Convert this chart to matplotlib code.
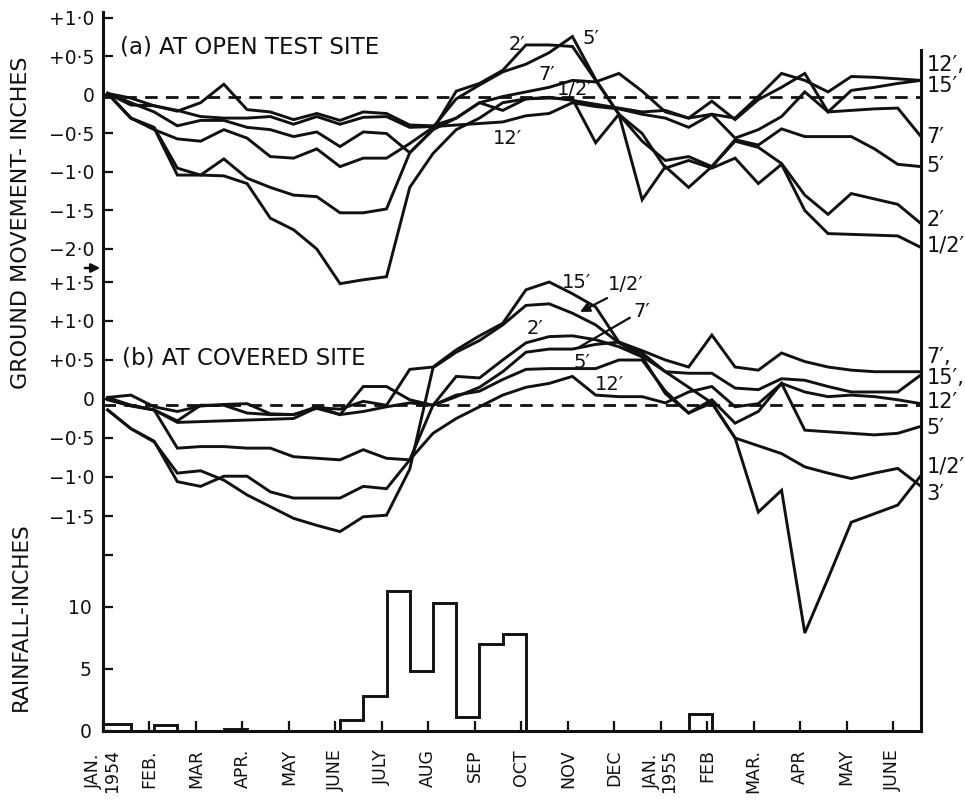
import matplotlib
matplotlib.use("Agg")
import matplotlib.pyplot as plt

plt.rcParams['font.family'] = ['DejaVu Sans', 'Noto Sans']

# ---------------- data ----------------
# observation times, in months after 1 Jan 1954 (semi-monthly readings)
obs_time = [0.1, 0.6, 1.1, 1.6, 2.1, 2.6, 3.1, 3.6, 4.1, 4.6, 5.1, 5.6,
            6.1, 6.6, 7.1, 7.6, 8.1, 8.6, 9.1, 9.6, 10.1, 10.6, 11.1, 11.6,
            12.1, 12.6, 13.1, 13.6, 14.1, 14.6, 15.1, 15.6, 16.1, 16.6, 17.1, 17.6]

month_labels = ["JAN.\n1954", "FEB.", "MAR", "APR.", "MAY", "JUNE", "JULY", "AUG",
                "SEP", "OCT", "NOV", "DEC", "JAN.\n1955", "FEB", "MAR.", "APR", "MAY", "JUNE"]

# (a) open test site, ground movement (inches) at each depth
open_15 = [0.02, -0.04, -0.14, -0.21, -0.10, 0.14, -0.19, -0.22, -0.32, -0.24, -0.33, -0.22,
           -0.24, -0.39, -0.40, -0.30, -0.10, -0.20, -0.05, -0.03, -0.07, -0.12, -0.17, -0.22,
           -0.20, -0.30, -0.08, -0.32, -0.06, 0.10, 0.28, -0.22, 0.06, 0.10, 0.15, 0.19]
open_12 = [0.02, -0.13, -0.14, -0.20, -0.28, -0.30, -0.30, -0.28, -0.38, -0.28, -0.38, -0.29,
           -0.28, -0.42, -0.41, -0.39, -0.37, -0.35, -0.27, -0.24, -0.10, -0.15, -0.18, -0.25,
           -0.30, -0.42, -0.25, -0.30, -0.02, 0.28, 0.19, 0.04, 0.24, 0.23, 0.21, 0.19]
open_7 = [0.02, -0.10, -0.22, -0.40, -0.33, -0.33, -0.42, -0.45, -0.54, -0.48, -0.67, -0.48,
          -0.50, -0.75, -0.45, -0.30, -0.10, -0.02, 0.04, 0.10, 0.19, 0.17, 0.28, 0.05,
          -0.22, -0.30, -0.25, -0.56, -0.45, -0.28, 0.04, -0.22, -0.20, -0.18, -0.17, -0.54]
open_5 = [0.02, -0.30, -0.45, -0.57, -0.60, -0.45, -0.56, -0.80, -0.82, -0.70, -0.93, -0.82,
          -0.82, -0.63, -0.42, -0.05, 0.13, 0.30, 0.40, 0.55, 0.76, 0.20, -0.25, -1.36,
          -0.93, -1.20, -0.93, -0.58, -0.65, -0.44, -0.54, -0.54, -0.54, -0.70, -0.90, -0.93]
open_2 = [0.02, -0.30, -0.42, -0.95, -1.04, -0.83, -1.08, -1.20, -1.30, -1.32, -1.53, -1.53,
          -1.48, -0.75, -0.45, 0.05, 0.15, 0.32, 0.65, 0.65, 0.63, 0.19, -0.25, -0.60,
          -0.85, -0.80, -0.93, -0.60, -0.68, -0.89, -1.30, -1.55, -1.28, -1.35, -1.42, -1.67]
open_half = [0.02, -0.30, -0.43, -1.04, -1.04, -1.05, -1.15, -1.60, -1.75, -2.00, -2.45, -2.40,
             -2.36, -1.20, -0.76, -0.45, -0.30, -0.10, -0.05, -0.04, -0.05, -0.62, -0.25, -0.50,
             -0.95, -0.85, -0.95, -0.82, -1.15, -0.90, -1.50, -1.80, -1.81, -1.82, -1.83, -1.98]

# (b) covered site
cov_15 = [-0.01, -0.09, -0.14, -0.30, -0.29, -0.28, -0.27, -0.26, -0.25, -0.11, -0.13, -0.03,
          -0.08, 0.38, 0.41, 0.63, 0.81, 0.97, 1.40, 1.50, 1.35, 1.18, 0.73, 0.59,
          0.35, 0.33, 0.33, 0.14, 0.12, 0.26, 0.24, 0.16, 0.09, 0.09, 0.09, 0.31]
cov_12 = [0.00, -0.08, -0.14, -0.63, -0.61, -0.61, -0.63, -0.63, -0.74, -0.76, -0.78, -0.65,
          -0.76, -0.78, -0.44, -0.25, -0.10, 0.05, 0.15, 0.20, 0.29, 0.05, 0.03, 0.03,
          -0.05, 0.09, 0.16, -0.10, -0.06, 0.20, 0.09, 0.03, 0.05, 0.03, -0.01, -0.06]
cov_7 = [0.02, 0.05, -0.10, -0.16, -0.09, -0.07, -0.06, -0.19, -0.20, -0.10, -0.20, 0.16,
         0.16, -0.01, -0.08, 0.03, 0.15, 0.35, 0.60, 0.64, 0.64, 0.70, 0.73, 0.62,
         0.50, 0.41, 0.82, 0.41, 0.37, 0.59, 0.48, 0.41, 0.37, 0.35, 0.35, 0.35]
cov_5 = [0.02, -0.08, -0.14, -0.28, -0.08, -0.08, -0.18, -0.20, -0.20, -0.12, -0.20, -0.16,
         -0.10, -0.05, -0.08, 0.05, 0.10, 0.25, 0.38, 0.39, 0.39, 0.39, 0.50, 0.50,
         0.10, -0.18, -0.01, -0.31, -0.16, 0.20, -0.40, -0.42, -0.44, -0.46, -0.44, -0.35]
cov_half = [-0.14, -0.38, -0.55, -0.95, -0.92, -1.04, -1.23, -1.38, -1.53, -1.62, -1.70, -1.51,
            -1.49, -0.90, 0.40, 0.60, 0.75, 0.95, 1.20, 1.22, 1.10, 0.95, 0.72, 0.55,
            0.35, 0.15, -0.05, -0.50, -1.45, -1.17, -3.00, -2.30, -1.58, -1.47, -1.36, -0.98]
cov_3 = [-0.14, -0.38, -0.54, -1.06, -1.12, -0.99, -0.99, -1.19, -1.27, -1.27, -1.27, -1.12,
         -1.15, -0.78, -0.08, 0.29, 0.27, 0.50, 0.72, 0.80, 0.81, 0.76, 0.67, 0.54,
         0.07, -0.18, -0.05, -0.50, -0.60, -0.70, -0.87, -0.95, -1.02, -0.95, -0.89, -1.12]

# rainfall (inches) per half month
rain_edges = [0.0, 0.6, 1.1, 1.6, 2.1, 2.6, 3.1, 3.6, 4.1, 4.6, 5.1, 5.6,
              6.1, 6.6, 7.1, 7.6, 8.1, 8.6, 9.1, 9.6, 10.1, 10.6, 11.1, 11.6,
              12.1, 12.6, 13.1, 13.6, 14.1, 14.6, 15.1, 15.6, 16.1, 16.6, 17.1, 17.6, 18.1]
rain = [0.6, 0, 0.5, 0, 0, 0.2, 0, 0, 0, 0, 0.9, 2.8,
        11.3, 4.8, 10.3, 1.1, 7.0, 7.8, 0, 0, 0, 0, 0, 0,
        0, 1.4, 0, 0, 0, 0, 0, 0, 0, 0, 0, 0]

open_series = [("15′", open_15), ("12′", open_12), ("7′", open_7),
               ("5′", open_5), ("2′", open_2), ("1/2′", open_half)]
cov_series = [("15′", cov_15), ("12′", cov_12), ("7′", cov_7),
              ("5′", cov_5), ("1/2′", cov_half), ("3′", cov_3)]

open_ref = -0.03
cov_ref = -0.08

# ---------------- figure ----------------
W, H = 965, 800
fig = plt.figure(figsize=(W / 100, H / 100), dpi=100)
fig.patch.set_facecolor('white')

x0, x1, ytop, ybot = 103, 921, 12, 731
rect = [x0 / W, 1 - ybot / H, (x1 - x0) / W, (ybot - ytop) / H]
XMAX = 17.6

ax_r = fig.add_axes(rect)
ax_a = fig.add_axes(rect)
ax_b = fig.add_axes(rect)

for ax in (ax_r, ax_a, ax_b):
    ax.set_xlim(0, XMAX)

# pixel calibrations of the three stacked scales
ax_a.set_ylim((95 - ybot) / 77, (95 - ytop) / 77)
ax_b.set_ylim((399 - ybot) / 78, (399 - ytop) / 78)
ax_r.set_ylim(0, (ybot - ytop) / 12.4)

LW = 2.1
INK = '#111111'

for ax in (ax_a, ax_b):
    ax.patch.set_visible(False)
    for s in ax.spines.values():
        s.set_visible(False)
    ax.tick_params(axis='x', bottom=False, labelbottom=False)
    ax.tick_params(axis='y', direction='in', length=7, width=1.6, labelsize=13.5,
                   pad=6, colors=INK)

# spines of base axis
for side in ('left', 'right', 'bottom'):
    ax_r.spines[side].set_linewidth(2.2)
    ax_r.spines[side].set_color(INK)
ax_r.spines['top'].set_visible(False)
ax_r.spines['right'].set_bounds(0, (ybot - 50) / 12.4)

ax_r.set_yticks([0, 5, 10])
ax_r.set_yticklabels(["0", "5", "10"])
ax_r.tick_params(axis='y', direction='in', length=7, width=1.6, labelsize=13.5, pad=8,
                 colors=INK)
ax_r.set_xticks(range(len(month_labels)))
ax_r.set_xticklabels(month_labels, rotation=90, fontsize=12.5, va='top', ha='center',
                     linespacing=0.95)
ax_r.tick_params(axis='x', direction='in', length=7, width=1.6, pad=13, colors=INK)

ax_a.set_yticks([1.0, 0.5, 0, -0.5, -1.0, -1.5, -2.0])
ax_a.set_yticklabels(["+1·0", "+0·5", "0", "−0·5", "−1·0", "−1·5", "−2·0"])
ax_b.set_yticks([1.5, 1.0, 0.5, 0, -0.5, -1.0, -1.5, -2.0])
ax_b.set_yticklabels(["+1·5", "+1·0", "+0·5", "0", "−0·5", "−1·0", "−1·5", ""])

# rainfall outline
ax_r.stairs(rain, rain_edges, baseline=0, color=INK, lw=LW)

# reference dashed lines
ax_a.plot([0, XMAX], [open_ref, open_ref], color=INK, lw=2.0, ls=(0, (4.5, 3)))
ax_b.plot([0, XMAX], [cov_ref, cov_ref], color=INK, lw=2.0, ls=(0, (4.5, 3)))

for name, vals in open_series:
    ax_a.plot(obs_time, vals, color=INK, lw=LW, solid_joinstyle='miter')
for name, vals in cov_series:
    ax_b.plot(obs_time, vals, color=INK, lw=LW, solid_joinstyle='miter')

# panel titles
ax_a.text(0.37, 0.62, "(a) AT OPEN TEST SITE", fontsize=16.5, va='center', ha='left', color=INK)
ax_b.text(0.41, 0.53, "(b) AT COVERED SITE", fontsize=16.5, va='center', ha='left', color=INK)

# right-hand depth labels
fs = 15
xr = 17.72
for txt, v in [("12′,", 0.39), ("15′", 0.12), ("7′", -0.545), ("5′", -0.92),
               ("2′", -1.62), ("1/2′", -1.96)]:
    ax_a.text(xr, v, txt, fontsize=fs, va='center', ha='left', clip_on=False, color=INK)
for txt, v in [("7′,", 0.54), ("15′,", 0.27), ("12′", -0.04), ("5′", -0.37),
               ("1/2′", -0.87), ("3′", -1.22)]:
    ax_b.text(xr, v, txt, fontsize=fs, va='center', ha='left', clip_on=False, color=INK)

# inline labels, panel (a)
for txt, m, v in [("2′", 8.9, 0.65), ("5′", 10.5, 0.74), ("7′", 9.55, 0.26),
                  ("1/2′", 10.15, 0.07), ("12′", 8.71, -0.56)]:
    ax_a.text(m, v, txt, fontsize=14, va='center', ha='center', color=INK)

# inline labels, panel (b)
for txt, m, v in [("15′", 10.19, 1.49), ("2′", 9.29, 0.91), ("5′", 10.3, 0.47),
                  ("12′", 10.9, 0.18)]:
    ax_b.text(m, v, txt, fontsize=14, va='center', ha='center', color=INK)
ax_b.text(11.25, 1.47, "1/2′", fontsize=14, va='center', ha='center', color=INK)
ax_b.annotate("", xy=(10.21, 1.10), xytext=(10.9, 1.31),
              arrowprops=dict(arrowstyle='-|>', color=INK, lw=1.6, mutation_scale=14))
ax_b.text(11.6, 1.12, "7′", fontsize=14, va='center', ha='center', color=INK)
ax_b.plot([11.33, 10.26], [1.04, 0.67], color=INK, lw=1.6)

# arrow marking the panel boundary on the left axis
ax_a.annotate("", xy=(0, (95 - 268) / 77), xytext=(-0.45, (95 - 268) / 77),
              arrowprops=dict(arrowstyle='-|>', color=INK, lw=1.8, mutation_scale=13),
              annotation_clip=False)

# axis titles
fig.text(21 / W, 1 - 223 / H, "GROUND MOVEMENT- INCHES", rotation=90, fontsize=16,
         va='center', ha='center', color=INK)
fig.text(21 / W, 1 - 617 / H, "RAINFALL-INCHES", rotation=90, fontsize=15.5,
         va='center', ha='center', color=INK)

fig.savefig("out.png", dpi=100, facecolor='white')
